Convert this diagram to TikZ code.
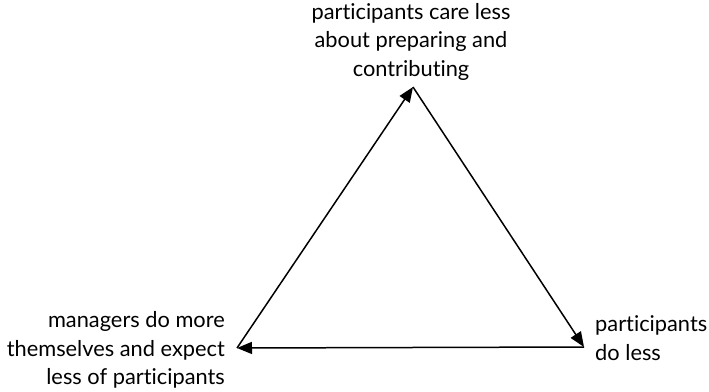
\documentclass[tikz,border=0pt]{standalone}
\usepackage{fontspec}
\setmainfont[Ligatures={NoCommon,NoContextual}]{Lato}
\usetikzlibrary{arrows.meta}
\begin{document}
\begin{tikzpicture}[x=1pt,y=-1pt,
  lbl/.style={inner sep=0pt, font=\fontsize{21.8}{28.5}\selectfont},
  flow/.style={line width=1.5pt, -{Triangle[length=15pt,width=12pt]}}]
\useasboundingbox (0,0) rectangle (709,391);
\coordinate (top) at (413,87);
\coordinate (bl) at (237,348);
\coordinate (br) at (584,347);
\node[lbl, align=center, anchor=north] (t) at (411,3) {participants care less\\about preparing and\\contributing};
\node[lbl, align=right, anchor=east] (l) at (225,350) {managers do more\\themselves and expect\\less of participants};
\node[lbl, align=left, anchor=west] (r) at (595,338) {participants\\do less};
\draw[flow] (bl) -- (top);
\draw[flow] (top) -- (br);
\draw[flow] (br) -- (bl);
\end{tikzpicture}
\end{document}
